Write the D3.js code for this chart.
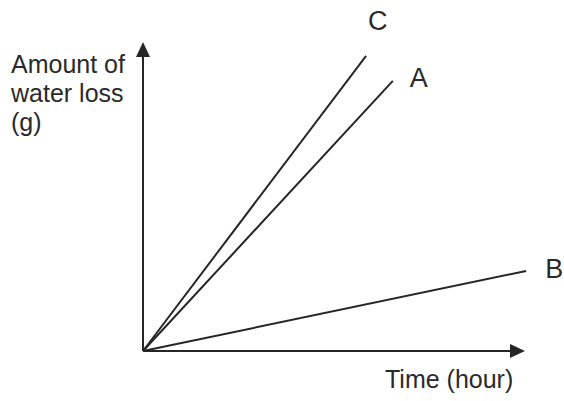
<!DOCTYPE html>
<html>
<head>
<meta charset="utf-8">
<script src="https://cdn.jsdelivr.net/npm/d3@7"></script>
<style>
  body { margin: 0; background: #fff; }
  text { font-family: "Liberation Sans", Arial, sans-serif; fill: #2a2a2a; }
</style>
</head>
<body>
<div id="chart"></div>
<script>
// series: [time, water loss] in arbitrary units
var seriesNames = ["C", "A", "B"]
var seriesC = [[0, 0], [5.84, 9.55]]
var seriesA = [[0, 0], [6.54, 8.74]]
var seriesB = [[0, 0], [10.03, 2.59]]
var yLabelLines = ["Amount of", "water loss", "(g)"]
var xLabel = "Time (hour)"

var width = 564, height = 401
var origin = {x: 143, y: 351}

var x = d3.scaleLinear().domain([0, 10]).range([origin.x, 525])
var y = d3.scaleLinear().domain([0, 10]).range([origin.y, 42])

var svg = d3.select("#chart").append("svg")
    .attr("width", width)
    .attr("height", height)

var ink = "#262626"

// axes, drawn as plain lines with arrow heads
svg.append("line")
    .attr("x1", x(0)).attr("y1", y(0))
    .attr("x2", x(0)).attr("y2", y(10) + 12)
    .style("stroke", ink).style("stroke-width", 2)
svg.append("line")
    .attr("x1", x(0)).attr("y1", y(0))
    .attr("x2", x(10) - 12).attr("y2", y(0))
    .style("stroke", ink).style("stroke-width", 2)

var tipY = [x(0), y(10)], tipX = [x(10), y(0)]
svg.append("path")
    .attr("d", "M" + tipY[0] + "," + tipY[1] + "L" + (tipY[0] - 7) + "," + (tipY[1] + 15) +
        "L" + (tipY[0] + 7) + "," + (tipY[1] + 15) + "Z")
    .style("fill", ink)
svg.append("path")
    .attr("d", "M" + tipX[0] + "," + tipX[1] + "L" + (tipX[0] - 15) + "," + (tipX[1] - 7) +
        "L" + (tipX[0] - 15) + "," + (tipX[1] + 7) + "Z")
    .style("fill", ink)

// the three water-loss lines
var line = d3.line()
    .x(function(d) { return x(d[0]) })
    .y(function(d) { return y(d[1]) })

var allSeries = [seriesC, seriesA, seriesB]
svg.selectAll("path.series")
    .data(allSeries)
    .enter().append("path")
    .attr("class", "series")
    .attr("d", line)
    .style("fill", "none")
    .style("stroke", ink)
    .style("stroke-width", 2)

// line labels, offset from each line's end point
var labelOffset = {C: [2, -26], A: [17, 6], B: [19, 7]}
svg.selectAll("text.name")
    .data(seriesNames)
    .enter().append("text")
    .attr("class", "name")
    .attr("x", function(d, i) { return x(allSeries[i][1][0]) + labelOffset[d][0] })
    .attr("y", function(d, i) { return y(allSeries[i][1][1]) + labelOffset[d][1] })
    .style("font-size", "27px")
    .text(function(d) { return d })

// axis titles
svg.append("text")
    .selectAll("tspan")
    .data(yLabelLines)
    .enter().append("tspan")
    .attr("x", 11)
    .attr("y", function(d, i) { return 73 + i * 29 })
    .style("font-size", "25px")
    .text(function(d) { return d })

svg.append("text")
    .attr("x", 385)
    .attr("y", 388)
    .style("font-size", "25px")
    .text(xLabel)
</script>
</body>
</html>
